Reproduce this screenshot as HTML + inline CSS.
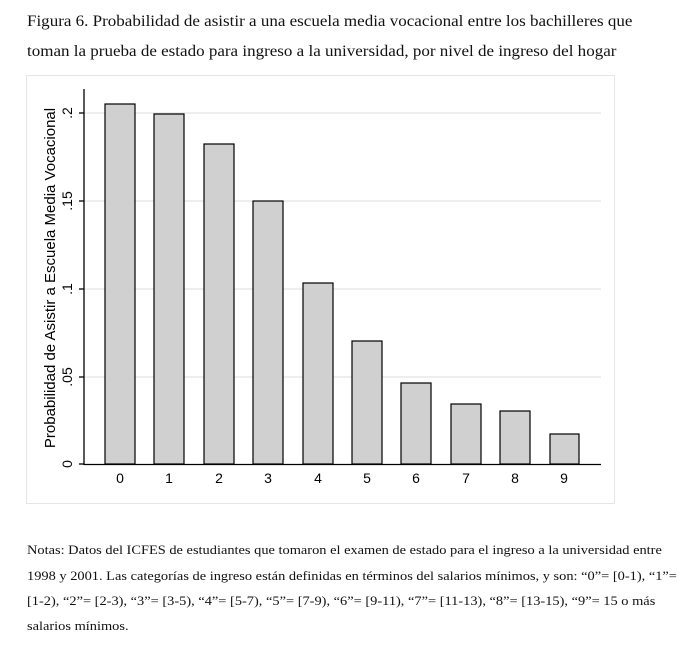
<!DOCTYPE html>
<html><head><meta charset="utf-8"><style>
body{margin:0;width:693px;height:653px;background:#fff;overflow:hidden;font-family:"Liberation Serif",serif;color:#111}
.t{position:absolute;left:27px;font-size:16px;white-space:nowrap;transform:scaleX(1.063);transform-origin:0 0}
.n{position:absolute;left:27px;font-size:12.8px;white-space:nowrap;transform:scaleX(1.125);transform-origin:0 0}
</style></head><body>
<div class="t" style="top:13px">Figura 6. Probabilidad de asistir a una escuela media vocacional entre los bachilleres que</div>
<div class="t" style="top:43px">toman la prueba de estado para ingreso a la universidad, por nivel de ingreso del hogar</div>
<svg style="position:absolute;left:0;top:0" width="693" height="653">
<rect x="26.5" y="75.5" width="588" height="428" fill="#fff" stroke="#e6e6e6"/>
<g stroke="#dcdcdc" stroke-width="1">
<line x1="85" y1="113" x2="601" y2="113"/><line x1="85" y1="201" x2="601" y2="201"/>
<line x1="85" y1="289" x2="601" y2="289"/><line x1="85" y1="377" x2="601" y2="377"/>
</g>
<g fill="#d0d0d0" stroke="#000" stroke-width="1.2">
<rect x="105" y="104" width="30" height="360"/>
<rect x="154" y="114" width="30" height="350"/>
<rect x="204" y="144" width="30" height="320"/>
<rect x="253" y="201" width="30" height="263"/>
<rect x="303" y="283" width="30" height="181"/>
<rect x="352" y="341" width="30" height="123"/>
<rect x="401" y="383" width="30" height="81"/>
<rect x="451" y="404" width="30" height="60"/>
<rect x="500" y="411" width="30" height="53"/>
<rect x="550" y="434" width="29" height="30"/>
</g>
<g stroke="#000" stroke-width="1.3">
<line x1="84" y1="89" x2="84" y2="465"/><line x1="84" y1="464.5" x2="601" y2="464.5"/>
<line x1="79" y1="113" x2="84" y2="113"/><line x1="79" y1="201" x2="84" y2="201"/>
<line x1="79" y1="289" x2="84" y2="289"/><line x1="79" y1="377" x2="84" y2="377"/>
<line x1="79" y1="464" x2="84" y2="464"/>
</g>
<g font-family="Liberation Sans,sans-serif" font-size="14" text-anchor="middle" fill="#000">
<text x="120" y="483">0</text><text x="169" y="483">1</text><text x="219" y="483">2</text>
<text x="268" y="483">3</text><text x="318" y="483">4</text><text x="367" y="483">5</text>
<text x="416" y="483">6</text><text x="466" y="483">7</text><text x="515" y="483">8</text>
<text x="564" y="483">9</text>
<g transform="rotate(-90)">
<text x="-113" y="72">.2</text><text x="-201" y="72">.15</text><text x="-289" y="72">.1</text>
<text x="-377" y="72">.05</text><text x="-464" y="72">0</text>
<text x="-278" y="55" font-size="15">Probabilidad de Asistir a Escuela Media Vocacional</text>
</g></g>
</svg>
<div class="n" style="top:543px">Notas: Datos del ICFES de estudiantes que tomaron el examen de estado para el ingreso a la universidad entre</div>
<div class="n" style="top:569px">1998 y 2001. Las categorías de ingreso están definidas en términos del salarios mínimos, y son: “0”= [0-1), “1”=</div>
<div class="n" style="top:594px">[1-2), “2”= [2-3), “3”= [3-5), “4”= [5-7), “5”= [7-9), “6”= [9-11), “7”= [11-13), “8”= [13-15), “9”= 15 o más</div>
<div class="n" style="top:619px">salarios mínimos.</div>
</body></html>
